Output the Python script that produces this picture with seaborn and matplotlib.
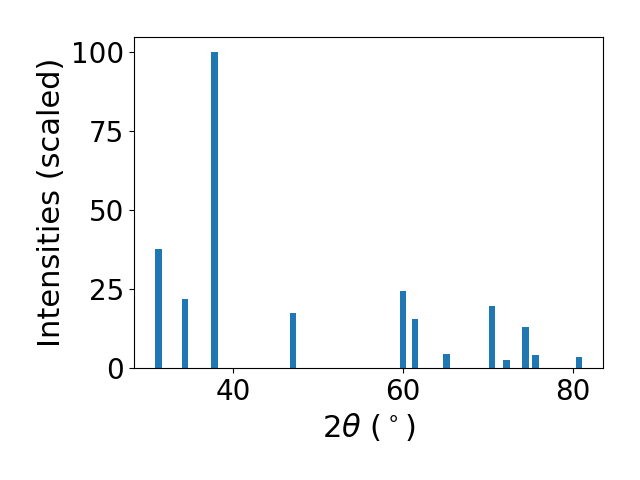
import numpy as np
import pandas as pd
import matplotlib
matplotlib.use("Agg")
import matplotlib.pyplot as plt
import seaborn as sns

# peak positions (2theta, degrees) and scaled intensities
two_theta = [31.2, 34.3, 37.8, 47.0, 60.0, 61.4, 65.1, 70.5, 72.2, 74.4, 75.6, 80.7]
intensity = [37.6, 21.9, 100.0, 17.5, 24.5, 15.4, 4.4, 19.7, 2.5, 12.9, 4.1, 3.4]

df = pd.DataFrame({"two_theta": two_theta, "intensity": intensity})

plt.rcParams["font.size"] = 22

fig, ax = plt.subplots(figsize=(6.4, 4.8), dpi=100)

# seaborn scales width by the smallest spacing between peaks
bar_w = 0.75
min_gap = np.diff(np.sort(two_theta)).min()

sns.barplot(
    data=df,
    x="two_theta",
    y="intensity",
    native_scale=True,
    width=bar_w / min_gap,
    color="#1f77b4",
    saturation=1,
    errorbar=None,
    ax=ax,
)

ax.margins(x=0.05, y=0.05)
ax.set_ylim(0, 105)
ax.set_xlabel(r"$2\theta$ ($^\circ$)", fontsize=22)
ax.set_ylabel("Intensities (scaled)", fontsize=22)
ax.tick_params(labelsize=20)
ax.set_xticks([40, 60, 80])
ax.set_yticks([0, 25, 50, 75, 100])

plt.tight_layout(pad=1.2)
fig.savefig("out.png", dpi=100)
